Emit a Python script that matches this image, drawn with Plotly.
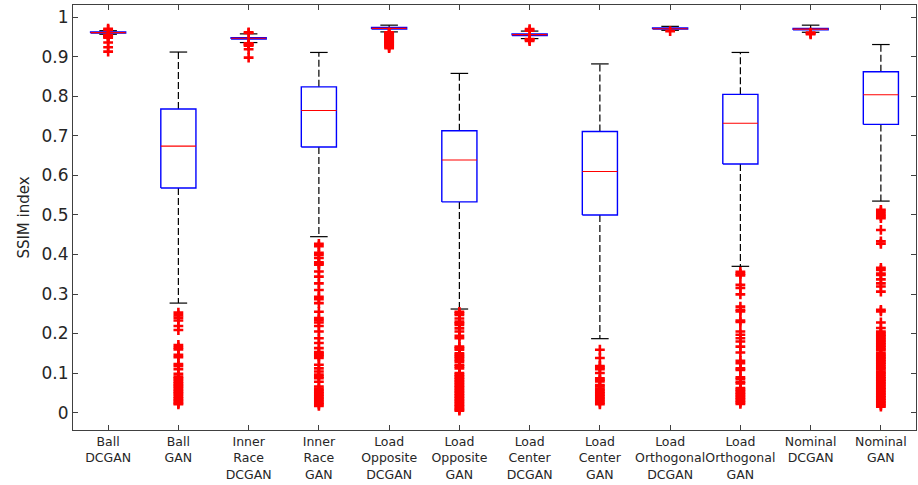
import plotly.graph_objects as go

categories = ["Ball<br>DCGAN", "Ball<br>GAN", "Inner<br>Race<br>DCGAN", "Inner<br>Race<br>GAN",
              "Load<br>Opposite<br>DCGAN", "Load<br>Opposite<br>GAN", "Load<br>Center<br>DCGAN",
              "Load<br>Center<br>GAN", "Load<br>Orthogonal<br>DCGAN", "Load<br>Orthogonal<br>GAN",
              "Nominal<br>DCGAN", "Nominal<br>GAN"]

lower_whisker = [0.957, 0.277, 0.936, 0.445, 0.963, 0.262, 0.946, 0.187, 0.967, 0.370, 0.962, 0.535]
q1 = [0.960, 0.568, 0.945, 0.672, 0.970, 0.533, 0.954, 0.500, 0.970, 0.629, 0.968, 0.729]
median = [0.961, 0.674, 0.947, 0.764, 0.972, 0.639, 0.956, 0.610, 0.971, 0.732, 0.970, 0.804]
q3 = [0.963, 0.768, 0.948, 0.824, 0.974, 0.713, 0.958, 0.711, 0.973, 0.805, 0.972, 0.862]
upper_whisker = [0.966, 0.912, 0.958, 0.911, 0.980, 0.858, 0.965, 0.882, 0.977, 0.911, 0.980, 0.931]

out_ball_dcgan = [0.971, 0.968, 0.955, 0.953, 0.952, 0.950, 0.948, 0.936, 0.924, 0.913]
out_ball_gan = [0.253, 0.246, 0.240, 0.233, 0.219, 0.209, 0.171, 0.165, 0.160, 0.146, 0.140, 0.123,
                0.118, 0.110, 0.098, 0.091, 0.087, 0.083, 0.078, 0.074, 0.070, 0.066, 0.062, 0.057,
                0.053, 0.049, 0.045, 0.040, 0.036, 0.032, 0.028, 0.024, 0.021]
out_inner_dcgan = [0.962, 0.960, 0.934, 0.932, 0.930, 0.928, 0.919, 0.898]
out_inner_gan = [0.427, 0.421, 0.404, 0.399, 0.391, 0.380, 0.377, 0.374, 0.357, 0.344, 0.327, 0.310,
                 0.293, 0.287, 0.277, 0.255, 0.239, 0.234, 0.228, 0.219, 0.205, 0.188, 0.176, 0.163,
                 0.153, 0.150, 0.146, 0.143, 0.138, 0.121, 0.112, 0.104, 0.096, 0.091, 0.087, 0.078,
                 0.066, 0.061, 0.057, 0.053, 0.049, 0.045, 0.041, 0.037, 0.033, 0.029, 0.025, 0.021,
                 0.017]
out_opp_dcgan = [0.962, 0.960, 0.958, 0.956, 0.954, 0.952, 0.950, 0.948, 0.946, 0.944, 0.942, 0.940,
                 0.938, 0.936, 0.934, 0.932, 0.930, 0.928, 0.925, 0.922]
out_opp_gan = [0.255, 0.251, 0.247, 0.238, 0.230, 0.226, 0.222, 0.213, 0.205, 0.194, 0.188, 0.167,
               0.163, 0.159, 0.150, 0.146, 0.142, 0.138, 0.133, 0.129, 0.121, 0.117, 0.112, 0.100,
               0.096, 0.092, 0.088, 0.084, 0.080, 0.076, 0.072, 0.068, 0.064, 0.060, 0.056, 0.052,
               0.048, 0.044, 0.040, 0.036, 0.032, 0.028, 0.024, 0.020, 0.016, 0.012, 0.008, 0.005]
out_center_dcgan = [0.970, 0.966, 0.945, 0.943, 0.940]
out_center_gan = [0.159, 0.138, 0.118, 0.114, 0.110, 0.100, 0.087, 0.083, 0.079, 0.070, 0.066, 0.061,
                  0.057, 0.053, 0.049, 0.045, 0.041, 0.037, 0.033, 0.029, 0.025, 0.021]
out_orth_dcgan = [0.965]
out_orth_gan = [0.356, 0.351, 0.347, 0.323, 0.315, 0.299, 0.268, 0.260, 0.256, 0.233, 0.229, 0.205,
                0.197, 0.188, 0.180, 0.167, 0.152, 0.131, 0.125, 0.112, 0.108, 0.089, 0.085, 0.078,
                0.074, 0.062, 0.058, 0.054, 0.050, 0.046, 0.042, 0.038, 0.034, 0.030, 0.026, 0.022]
out_nom_dcgan = [0.961, 0.959, 0.957]
out_nom_gan = [0.513, 0.508, 0.502, 0.497, 0.492, 0.462, 0.433, 0.427, 0.366, 0.361, 0.352, 0.348,
               0.337, 0.327, 0.319, 0.306, 0.260, 0.256, 0.228, 0.214, 0.205, 0.201, 0.197, 0.193,
               0.189, 0.185, 0.181, 0.177, 0.173, 0.169, 0.165, 0.161, 0.157, 0.150, 0.146, 0.142,
               0.138, 0.134, 0.130, 0.126, 0.122, 0.117, 0.113, 0.109, 0.104, 0.100, 0.096, 0.091,
               0.087, 0.083, 0.079, 0.075, 0.071, 0.067, 0.063, 0.059, 0.055, 0.051, 0.047, 0.043,
               0.039, 0.035, 0.031, 0.027, 0.023, 0.019, 0.015]

outliers = [out_ball_dcgan, out_ball_gan, out_inner_dcgan, out_inner_gan, out_opp_dcgan, out_opp_gan,
            out_center_dcgan, out_center_gan, out_orth_dcgan, out_orth_gan, out_nom_dcgan, out_nom_gan]

positions = list(range(1, len(categories) + 1))
half_box = 0.25
half_cap = 0.125

box_x, box_y = [], []
med_x, med_y = [], []
wh_x, wh_y = [], []
cap_x, cap_y = [], []
out_x, out_y = [], []
for i, p in enumerate(positions):
    box_x += [p - half_box, p + half_box, p + half_box, p - half_box, p - half_box, None]
    box_y += [q1[i], q1[i], q3[i], q3[i], q1[i], None]
    med_x += [p - half_box, p + half_box, None]
    med_y += [median[i], median[i], None]
    wh_x += [p, p, None, p, p, None]
    wh_y += [q3[i], upper_whisker[i], None, q1[i], lower_whisker[i], None]
    cap_x += [p - half_cap, p + half_cap, None, p - half_cap, p + half_cap, None]
    cap_y += [upper_whisker[i], upper_whisker[i], None, lower_whisker[i], lower_whisker[i], None]
    out_x += [p] * len(outliers[i])
    out_y += outliers[i]

fig = go.Figure()
fig.add_trace(go.Scatter(x=wh_x, y=wh_y, mode="lines",
                         line=dict(color="black", width=1.2, dash="7px,3px"), hoverinfo="skip"))
fig.add_trace(go.Scatter(x=cap_x, y=cap_y, mode="lines",
                         line=dict(color="black", width=1.2), hoverinfo="skip"))
fig.add_trace(go.Scatter(x=box_x, y=box_y, mode="lines",
                         line=dict(color="#0000ff", width=1.4), hoverinfo="skip"))
fig.add_trace(go.Scatter(x=med_x, y=med_y, mode="lines",
                         line=dict(color="#ff0000", width=1.1), hoverinfo="skip"))
fig.add_trace(go.Scatter(x=out_x, y=out_y, mode="markers",
                         marker=dict(symbol="cross-thin", size=7,
                                     line=dict(color="#ff0000", width=2.6)),
                         hoverinfo="skip"))

ytick_vals = [0, 0.1, 0.2, 0.3, 0.4, 0.5, 0.6, 0.7, 0.8, 0.9, 1]
ytick_text = ["0", "0.1", "0.2", "0.3", "0.4", "0.5", "0.6", "0.7", "0.8", "0.9", "1"]

axis_color = "#404040"
fig.update_layout(
    width=918, height=485,
    margin=dict(l=73, r=2, t=5, b=55),
    paper_bgcolor="white", plot_bgcolor="white",
    showlegend=False,
    font=dict(family="DejaVu Sans", color="#262626"),
    xaxis=dict(range=[0.5, 12.5], tickmode="array", tickvals=positions, ticktext=categories,
               tickangle=0, automargin=False,
               showline=True, linecolor=axis_color, linewidth=1, mirror="ticks",
               ticks="inside", ticklen=5, tickcolor=axis_color, showgrid=False, zeroline=False,
               tickfont=dict(size=12.5, family="DejaVu Sans", color="#262626")),
    yaxis=dict(range=[-0.044, 1.031], tickmode="array", tickvals=ytick_vals, ticktext=ytick_text,
               automargin=False,
               showline=True, linecolor=axis_color, linewidth=1, mirror="ticks",
               ticks="inside", ticklen=5, tickcolor=axis_color, showgrid=False, zeroline=False,
               tickfont=dict(size=17, family="DejaVu Sans", color="#262626"),
               title=dict(text="SSIM index", font=dict(size=15, family="DejaVu Sans", color="#262626"),
                          standoff=8)),
)

fig.write_html("out.html")
